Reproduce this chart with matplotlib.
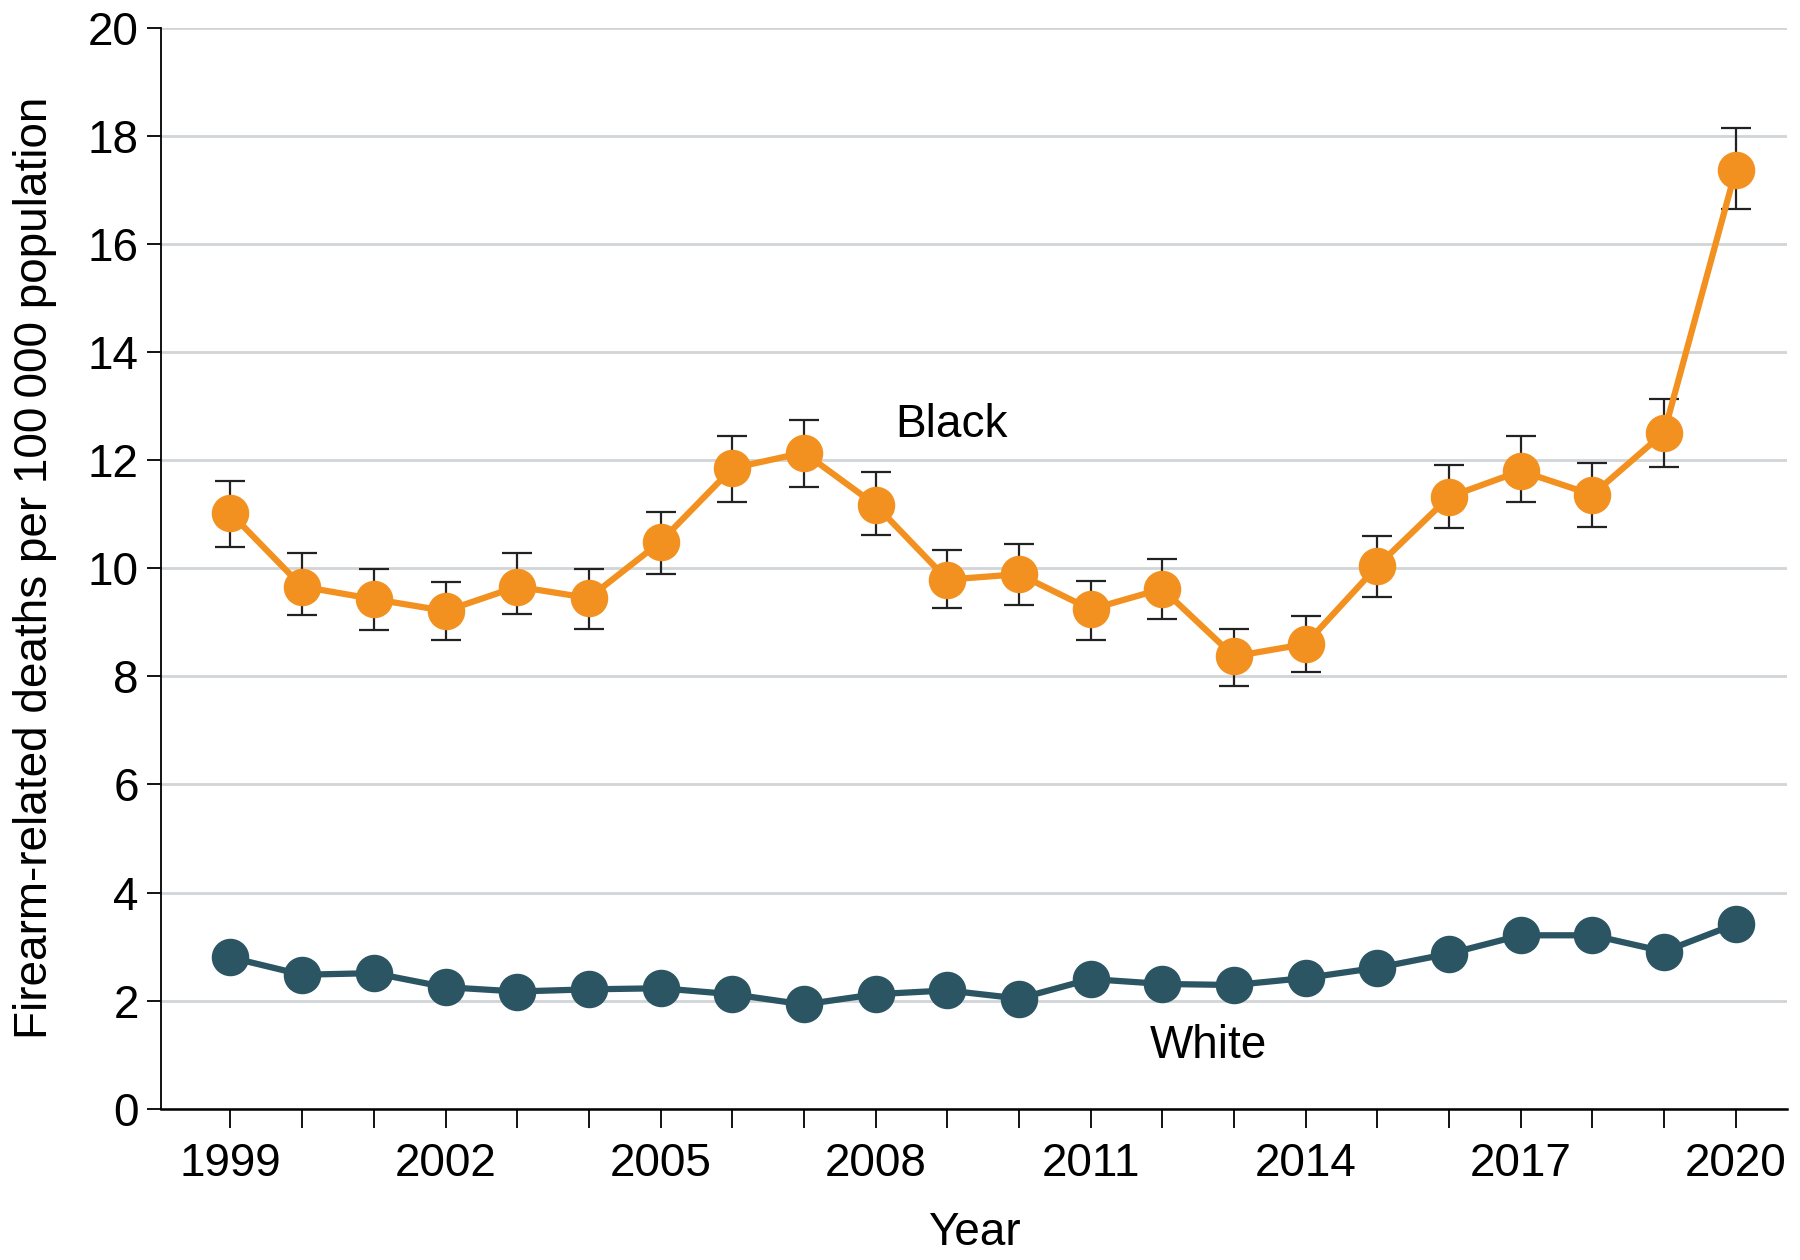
import numpy as np
import matplotlib
matplotlib.use('Agg')
import matplotlib.pyplot as plt

# data
years = list(range(1999, 2021))
black = [11.02, 9.66, 9.43, 9.21, 9.66, 9.45, 10.49, 11.85, 12.14, 11.17, 9.79,
         9.89, 9.24, 9.62, 8.37, 8.60, 10.04, 11.32, 11.80, 11.36, 12.51, 17.37]
black_hi = [11.61, 10.28, 9.98, 9.75, 10.28, 9.98, 11.04, 12.44, 12.74, 11.78, 10.34,
            10.45, 9.77, 10.17, 8.87, 9.11, 10.59, 11.91, 12.44, 11.95, 13.14, 18.15]
black_lo = [10.40, 9.13, 8.85, 8.68, 9.15, 8.87, 9.89, 11.23, 11.51, 10.62, 9.26,
            9.32, 8.68, 9.07, 7.83, 8.09, 9.47, 10.74, 11.23, 10.76, 11.87, 16.65]
white = [2.80, 2.48, 2.51, 2.25, 2.17, 2.21, 2.23, 2.12, 1.93, 2.12, 2.19,
         2.04, 2.40, 2.31, 2.29, 2.42, 2.61, 2.87, 3.21, 3.21, 2.91, 3.42]
white_hi = [2.93, 2.61, 2.64, 2.37, 2.29, 2.33, 2.35, 2.24, 2.05, 2.24, 2.31,
            2.16, 2.53, 2.44, 2.42, 2.55, 2.74, 3.00, 3.35, 3.35, 3.05, 3.57]
white_lo = [2.67, 2.35, 2.38, 2.13, 2.05, 2.09, 2.11, 2.00, 1.81, 2.00, 2.07,
            1.92, 2.27, 2.18, 2.16, 2.29, 2.48, 2.74, 3.07, 3.07, 2.77, 3.27]
xlabels = [1999, 2002, 2005, 2008, 2011, 2014, 2017, 2020]

orange = '#f39120'
teal = '#2b5563'

plt.rcParams['font.family'] = ['Liberation Sans', 'DejaVu Sans']
fs = 33

fig = plt.figure(figsize=(18, 12.6), dpi=100)
ax = fig.add_axes([0.0894, 0.12, 0.9036, 0.858])

yrs = np.array(years)
b = np.array(black)
w = np.array(white)

ax.errorbar(yrs, w, yerr=[w - np.array(white_lo), np.array(white_hi) - w],
            fmt='none', ecolor='#333333', elinewidth=1.2, capsize=11, capthick=1.5, zorder=3)
ax.plot(yrs, w, '-o', color=teal, lw=4.5, markersize=26, zorder=4)

ax.errorbar(yrs, b, yerr=[b - np.array(black_lo), np.array(black_hi) - b],
            fmt='none', ecolor='#222222', elinewidth=1.6, capsize=11, capthick=1.6, zorder=3)
ax.plot(yrs, b, '-o', color=orange, lw=4.5, markersize=26, zorder=4)

ax.text(2009.06, 12.65, 'Black', fontsize=fs, ha='center', va='center')
ax.text(2012.65, 1.16, 'White', fontsize=fs, ha='center', va='center')

ax.set_xlim(1998.03, 2020.72)
ax.set_ylim(0, 20)
ax.set_yticks(range(0, 21, 2))
ax.set_xticks(years)
ax.set_xticklabels([str(y) if y in xlabels else '' for y in years])
ax.yaxis.grid(True, color='#d2d5d8', lw=2)
ax.set_axisbelow(True)

for s in ['top', 'right']:
    ax.spines[s].set_visible(False)
ax.spines['left'].set_linewidth(1.3)
ax.spines['bottom'].set_linewidth(1.8)

ax.tick_params(axis='x', length=14, width=1.3, labelsize=fs, pad=10)
ax.tick_params(axis='y', length=10, width=1.3, labelsize=fs, pad=6)

ax.set_xlabel('Year', fontsize=fs, labelpad=18)
ax.set_ylabel('Firearm-related deaths per 100\u2009000 population', fontsize=fs, labelpad=22)

fig.savefig('out.png', dpi=100)
